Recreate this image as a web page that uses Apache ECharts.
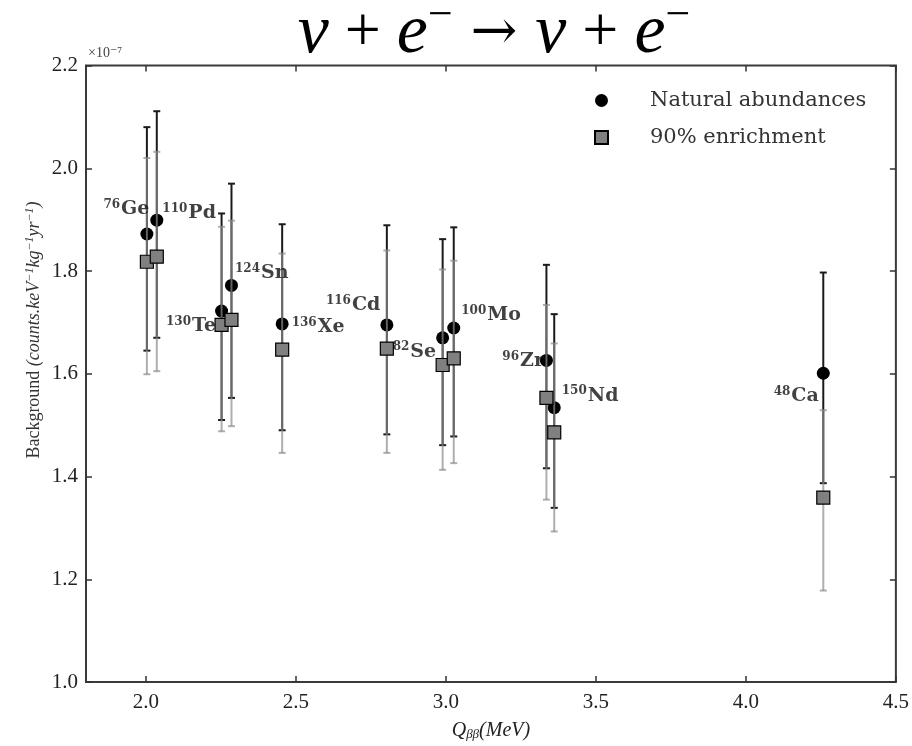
<!DOCTYPE html>
<html>
<head>
<meta charset="utf-8">
<script src="https://cdn.jsdelivr.net/npm/echarts@6/dist/echarts.min.js"></script>
<style>
  html, body { margin: 0; padding: 0; background: #ffffff; }
  #chart { width: 912px; height: 746px; }
</style>
</head>
<body>
<div id="chart"></div>
<script>
// Isotopes: mass number and element symbol
const isotopeMass   = ['76', '110', '130', '124', '136', '116', '82', '100', '96', '150', '48'];
const isotopeSymbol = ['Ge', 'Pd', 'Te', 'Sn', 'Xe', 'Cd', 'Se', 'Mo', 'Zr', 'Nd', 'Ca'];

// Q-value of the double beta decay (MeV)
const qValue = [2.003, 2.036, 2.252, 2.285, 2.454, 2.803, 2.989, 3.026, 3.335, 3.361, 4.258];

// Background in units of 1e-7 counts/(keV kg yr) — natural abundances
const naturalBg   = [1.872, 1.899, 1.722, 1.772, 1.697, 1.695, 1.670, 1.689, 1.626, 1.534, 1.601];
const naturalLow  = [1.645, 1.670, 1.510, 1.553, 1.490, 1.482, 1.461, 1.478, 1.416, 1.339, 1.387];
const naturalHigh = [2.080, 2.111, 1.912, 1.970, 1.891, 1.889, 1.862, 1.885, 1.812, 1.716, 1.797];

// Background — 90% enrichment
const enrichedBg   = [1.818, 1.828, 1.695, 1.705, 1.647, 1.649, 1.617, 1.630, 1.553, 1.486, 1.359];
const enrichedLow  = [1.599, 1.605, 1.488, 1.498, 1.446, 1.446, 1.413, 1.426, 1.355, 1.293, 1.178];
const enrichedHigh = [2.020, 2.032, 1.886, 1.898, 1.834, 1.840, 1.803, 1.820, 1.734, 1.659, 1.529];

// Axis ticks
const xTicks = [2.0, 2.5, 3.0, 3.5, 4.0, 4.5];
const yTicks = [1.0, 1.2, 1.4, 1.6, 1.8, 2.0, 2.2];

// Where each isotope label sits relative to its natural-abundance point: [side, dx, dy]
const labelPlacement = [
  ['left', 3, -25], ['right', 5, -7], ['left', -5, 15], ['right', 3, -12],
  ['right', 9, 3], ['left', -6, -20], ['left', -6, 14], ['right', 7, -13],
  ['left', -2, 1], ['right', 7, -12], ['left', -4, 23]
];

const SERIF = '"Liberation Serif", "DejaVu Serif", serif';
const WIDE_SERIF = '"DejaVu Serif", serif';

const naturalBars  = qValue.map((q, i) => [q, naturalLow[i], naturalHigh[i]]);
const enrichedBars = qValue.map((q, i) => [q, enrichedLow[i], enrichedHigh[i]]);
const naturalPts   = qValue.map((q, i) => [q, naturalBg[i]]);
const enrichedPts  = qValue.map((q, i) => [q, enrichedBg[i]]);

function errorBarRenderer(color, lineWidth) {
  return function (params, api) {
    const x = api.value(0);
    const lo = api.coord([x, api.value(1)]);
    const hi = api.coord([x, api.value(2)]);
    const cap = 3.5;
    const style = { stroke: color, lineWidth: lineWidth, fill: null };
    return {
      type: 'group',
      children: [
        { type: 'line', shape: { x1: lo[0], y1: lo[1], x2: hi[0], y2: hi[1] }, style: style },
        { type: 'line', shape: { x1: hi[0] - cap, y1: hi[1], x2: hi[0] + cap, y2: hi[1] }, style: style },
        { type: 'line', shape: { x1: lo[0] - cap, y1: lo[1], x2: lo[0] + cap, y2: lo[1] }, style: style }
      ]
    };
  };
}

const labelData = qValue.map((q, i) => {
  const p = labelPlacement[i];
  return {
    value: [q, naturalBg[i]],
    label: {
      position: p[0],
      distance: 0,
      offset: [p[1], p[2]],
      formatter: '{m|' + isotopeMass[i] + '}{s|' + isotopeSymbol[i] + '}'
    }
  };
});

const tickStyle = { inside: true, length: 6, lineStyle: { color: '#333', width: 1.5 } };

const chart = echarts.init(document.getElementById('chart'), null, { renderer: 'canvas' });

chart.setOption({
  animation: false,
  backgroundColor: '#ffffff',
  title: {
    left: 489,
    top: -7,
    textAlign: 'center',
    text: '{i|ν}{n| + }{i|e}{s|−}{a| → }{i|ν}{n| + }{i|e}{s|−}',
    textStyle: {
      fontWeight: 'normal',
      rich: {
        i: { fontFamily: SERIF, fontStyle: 'italic', fontWeight: 'normal', fontSize: 70, color: '#000', lineHeight: 72 },
        n: { fontFamily: SERIF, fontWeight: 'normal', fontSize: 64, color: '#000', lineHeight: 72 },
        a: { fontFamily: WIDE_SERIF, fontWeight: 'normal', fontSize: 56, color: '#000', lineHeight: 72 },
        s: { fontFamily: SERIF, fontWeight: 'normal', fontSize: 44, color: '#000', lineHeight: 72, padding: [0, 0, 36, 0] }
      }
    }
  },
  legend: {
    left: 589,
    top: 84,
    orient: 'vertical',
    itemWidth: 13,
    itemHeight: 13,
    itemGap: 14,
    data: ['Natural abundances', '90% enrichment'],
    textStyle: { fontFamily: WIDE_SERIF, fontSize: 21, color: '#333', lineHeight: 23, padding: [0, 0, 0, 37] }
  },
  grid: {
    left: 86, right: 14, top: 65.5, bottom: 57,
    show: true, borderColor: '#3a3a3a', borderWidth: 2, backgroundColor: 'transparent'
  },
  xAxis: [
    {
      type: 'value', min: 1.8, max: 4.5, position: 'bottom',
      axisLine: { show: false },
      splitLine: { show: false },
      axisTick: Object.assign({ customValues: xTicks }, tickStyle),
      axisLabel: {
        customValues: xTicks, margin: 10,
        formatter: v => v.toFixed(1),
        fontFamily: SERIF, fontSize: 21, color: '#222'
      },
      name: '{q|Q}{b|ββ}{q|(MeV)}',
      nameLocation: 'middle',
      nameGap: 38,
      nameTextStyle: {
        rich: {
          q: { fontFamily: SERIF, fontStyle: 'italic', fontSize: 20, color: '#222' },
          b: { fontFamily: SERIF, fontStyle: 'italic', fontSize: 13, color: '#222', padding: [8, 0, 0, 0] }
        }
      }
    },
    {
      type: 'value', min: 1.8, max: 4.5, position: 'top',
      axisLine: { show: false }, splitLine: { show: false },
      axisTick: Object.assign({ customValues: xTicks }, tickStyle),
      axisLabel: { show: false }
    }
  ],
  yAxis: [
    {
      type: 'value', min: 1.0, max: 2.2, position: 'left',
      axisLine: { show: false }, splitLine: { show: false },
      axisTick: Object.assign({ customValues: yTicks }, tickStyle),
      axisLabel: {
        customValues: yTicks, margin: 8,
        formatter: v => v.toFixed(1),
        fontFamily: SERIF, fontSize: 21, color: '#222'
      }
    },
    {
      type: 'value', min: 1.0, max: 2.2, position: 'right',
      axisLine: { show: false }, splitLine: { show: false },
      axisTick: Object.assign({ customValues: yTicks }, tickStyle),
      axisLabel: { show: false }
    }
  ],
  graphic: [
    {
      type: 'text', left: 88, top: 46,
      style: { text: '×10⁻⁷', fontFamily: SERIF, fontSize: 14, fill: '#444' }
    },
    {
      type: 'text', x: 34, y: 330, rotation: Math.PI / 2,
      style: {
        text: '{n|Background }{i|(counts.keV}{s|−1}{i|kg}{s|−1}{i|yr}{s|−1}{i|)}',
        align: 'center', verticalAlign: 'middle',
        rich: {
          n: { fontFamily: SERIF, fontSize: 18, fill: '#333' },
          i: { fontFamily: SERIF, fontStyle: 'italic', fontSize: 18, fill: '#333' },
          s: { fontFamily: SERIF, fontStyle: 'italic', fontSize: 12, fill: '#333', padding: [0, 0, 8, 0] }
        }
      }
    }
  ],
  series: [
    {
      name: 'natural-errors', type: 'custom', z: 2,
      renderItem: errorBarRenderer('#1a1a1a', 2),
      data: naturalBars, encode: { x: 0, y: [1, 2] }, silent: true
    },
    {
      name: 'Natural abundances', type: 'scatter', z: 3,
      symbol: 'circle', symbolSize: 13,
      itemStyle: { color: '#000000', opacity: 1 },
      data: naturalPts
    },
    {
      name: 'enriched-errors', type: 'custom', z: 4,
      renderItem: errorBarRenderer('rgba(140,140,140,0.7)', 2),
      data: enrichedBars, encode: { x: 0, y: [1, 2] }, silent: true
    },
    {
      name: '90% enrichment', type: 'scatter', z: 5,
      symbol: 'rect', symbolSize: 13,
      itemStyle: { color: '#808080', borderColor: '#000000', borderWidth: 1.2, opacity: 1 },
      data: enrichedPts
    },
    {
      name: 'isotope-labels', type: 'scatter', z: 6,
      symbolSize: 1, itemStyle: { color: 'rgba(0,0,0,0)' },
      silent: true,
      label: {
        show: true,
        rich: {
          m: { fontFamily: WIDE_SERIF, fontWeight: 'bold', fontSize: 12, color: '#111', verticalAlign: 'top', padding: [0, 1, 9, 0] },
          s: { fontFamily: WIDE_SERIF, fontWeight: 'bold', fontSize: 19, color: '#111' }
        }
      },
      data: labelData
    }
  ]
});
</script>
</body>
</html>
